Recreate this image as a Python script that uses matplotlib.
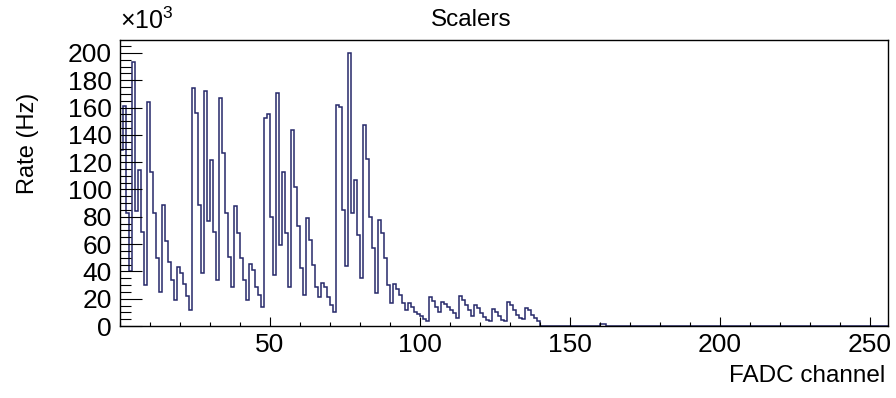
import numpy as np
import matplotlib
matplotlib.use("Agg")
import matplotlib.pyplot as plt
from matplotlib.ticker import MultipleLocator, FixedLocator

plt.rcParams['font.family'] = ['Liberation Sans', 'DejaVu Sans']
plt.rcParams['mathtext.fontset'] = 'custom'
plt.rcParams['mathtext.rm'] = 'Liberation Sans'

# scaler rate per FADC channel, in units of 10^3 Hz (channels 0..139)
rate_k = [129, 161, 82.5, 40, 193.6, 84, 114, 69, 30, 164,
          113, 82.5, 49.5, 25, 89, 62, 47, 34, 19, 43.5,
          39, 31, 22, 12, 174, 156, 89, 38.6, 172.4, 76.6,
          121.6, 69, 33.7, 167, 126.5, 82.6, 50.8, 28.8, 87.9, 67.9,
          49.6, 33.7, 19, 45.2, 41, 28.8, 22.7, 14.1, 152, 155,
          80.1, 37.4, 171, 59.4, 113, 68, 28.8, 143.6, 102, 72.9,
          42.4, 22.7, 78.8, 63, 44.7, 28.8, 21.5, 31.3, 28.8, 21.5,
          15.4, 10.5, 161.8, 160.6, 85, 43.7, 199.8, 82.6, 107, 66.7,
          35.4, 147, 122, 80, 57, 24, 77.6, 68, 49.6, 30,
          17, 31, 27, 22.7, 17, 12, 17, 14.2, 10.5, 9,
          7, 5, 4, 21.5, 18, 14, 10.5, 17.5, 16, 14,
          12, 9.5, 5.6, 22.2, 19, 15.4, 11.7, 7, 15.4, 12.9,
          9.2, 6.3, 4.4, 4, 12.4, 10.4, 7.3, 4.4, 4, 17.8,
          15.4, 11.7, 8.1, 5.6, 5, 13.4, 11.7, 8.1, 6, 4]
blip_channels = [160, 161]
blip_rate_k = [1.2, 1.2]
n_channels = 256

counts = np.zeros(n_channels)
counts[:len(rate_k)] = rate_k
counts[blip_channels] = blip_rate_k
edges = np.arange(n_channels + 1)

W, H = 896, 398
fig = plt.figure(figsize=(W/100, H/100), dpi=100)
ax = fig.add_axes([120/W, 1-326/H, 768/W, 286/H])
ax.stairs(counts, edges, color="#26286a", lw=1.1, baseline=0)
ax.set_xlim(0, 256)
ax.set_ylim(0, 209.5)

ax.xaxis.set_major_locator(FixedLocator([50, 100, 150, 200, 250]))
ax.xaxis.set_minor_locator(MultipleLocator(10))
ax.yaxis.set_major_locator(MultipleLocator(20))
ax.yaxis.set_minor_locator(MultipleLocator(5))
ax.tick_params(axis='x', which='major', direction='in', length=6.5, width=0.8, labelsize=19, pad=5)
ax.tick_params(axis='x', which='minor', direction='in', length=3.2, width=0.8)
ax.tick_params(axis='y', which='major', direction='in', length=16, width=0.8, labelsize=19, pad=6)
ax.tick_params(axis='y', which='minor', direction='in', length=8, width=0.8)
for s in ax.spines.values():
    s.set_linewidth(1.0)

fig.text(471/W, 1-20/H, "Scalers", ha='center', va='center', fontsize=17.5)
fig.text(28/W, 1-143/H, "Rate (Hz)", rotation=90, ha='center', va='center', fontsize=17)
fig.text(885/W, 1-376/H, "FADC channel", ha='right', va='center', fontsize=17.5)
fig.text(120/W, 1-29/H, r"×10$^{3}$", ha='left', va='baseline', fontsize=18)

fig.savefig("out.png", dpi=100)
